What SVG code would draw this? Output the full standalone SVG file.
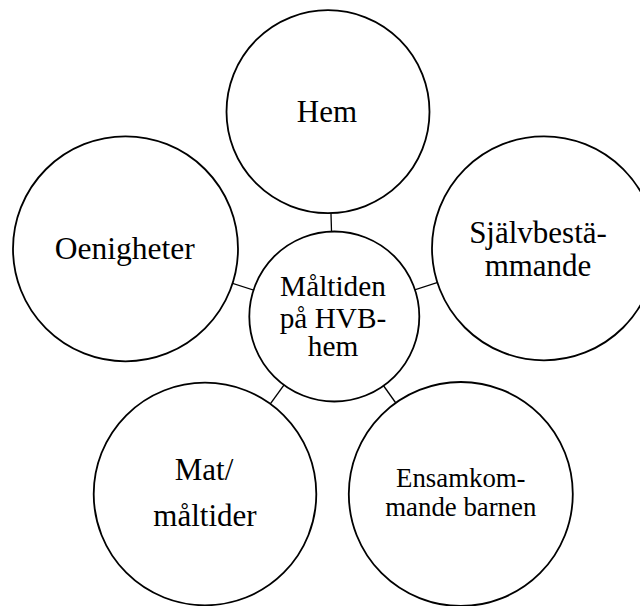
<svg xmlns="http://www.w3.org/2000/svg" width="640" height="606" viewBox="0 0 640 606">
<style>
.c{fill:#fff;stroke:#000;stroke-width:1.8}
.l{stroke:#000;stroke-width:1.3;fill:none}
text{font-family:"Liberation Serif","Times New Roman",serif;fill:#000;text-anchor:middle}
</style>
<rect width="640" height="606" fill="#fff"/>
<g id="connectors">
<line class="l" x1="334" y1="316" x2="328" y2="112"/>
<line class="l" x1="334" y1="316" x2="125.5" y2="249"/>
<line class="l" x1="334" y1="316" x2="544" y2="248"/>
<line class="l" x1="334" y1="316" x2="205" y2="494"/>
<line class="l" x1="334" y1="316" x2="460.5" y2="494"/>
</g>
<g id="hem">
<circle class="c" cx="328" cy="111.7" r="101.5"/>
<text x="327" y="122" font-size="31">Hem</text>
</g>
<g id="oenigheter">
<circle class="c" cx="125.5" cy="248.8" r="112.5"/>
<text x="124.7" y="259.3" font-size="31.5">Oenigheter</text>
</g>
<g id="sjalvbestammande">
<circle class="c" cx="544" cy="248.3" r="112"/>
<text x="538" y="242.7" font-size="31">Självbestä-</text>
<text x="538" y="276" font-size="31">mmande</text>
</g>
<g id="mat">
<circle class="c" cx="205" cy="494" r="111.3"/>
<text x="204" y="480" font-size="31">Mat/</text>
<text x="205" y="526" font-size="31">måltider</text>
</g>
<g id="ensam">
<circle class="c" cx="460.8" cy="494" r="112"/>
<text x="460.8" y="487.3" font-size="26.8">Ensamkom-</text>
<text x="460.8" y="515.7" font-size="26.8">mande barnen</text>
</g>
<g id="center">
<circle class="c" cx="334.3" cy="316.5" r="85"/>
<text x="333" y="296" font-size="29.3">Måltiden</text>
<text x="333" y="328" font-size="29.3">på HVB-</text>
<text x="333" y="356" font-size="29.3">hem</text>
</g>
</svg>
